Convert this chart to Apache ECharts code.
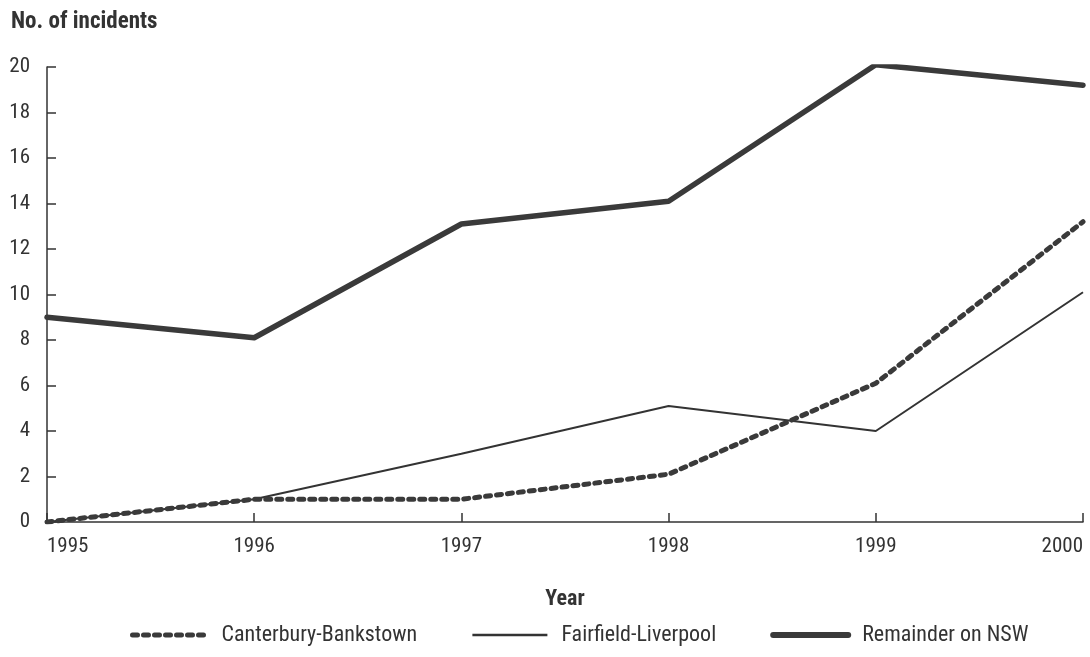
<!DOCTYPE html>
<html><head><meta charset="utf-8">
<script src="https://cdn.jsdelivr.net/npm/echarts@6/dist/echarts.min.js"></script>
<style>html,body{margin:0;padding:0;background:#fff}#c{width:1090px;height:657px}</style>
</head><body><div id="c"></div>
<script>
const years = ['1995','1996','1997','1998','1999','2000'];
const canterbury = [0, 1, 1, 2.1, 6.1, 13.2];
const fairfield = [0, 1, 3, 5.1, 4, 10.1];
const remainder = [9, 8.1, 13.1, 14.1, 20.1, 19.2];
const yTicks = [0, 2, 4, 6, 8, 10, 12, 14, 16, 18, 20];

const FONT = '"Liberation Sans Narrow", "Arial Narrow", "Roboto Condensed", "Liberation Sans", sans-serif';
const INK = '#333';
const DASH = [5, 6];
const chart = echarts.init(document.getElementById('c'));
chart.setOption({
  backgroundColor: '#fff',
  animation: false,
  textStyle: { fontFamily: FONT, color: INK },
  title: {
    text: 'No. of incidents', left: 6, top: 6,
    textStyle: { fontFamily: FONT, fontWeight: 'bold', fontSize: 23, color: INK }
  },
  grid: { left: 47, right: 7, top: 67, bottom: 135 },
  legend: {
    bottom: 6, left: 125, itemGap: 54, itemWidth: 75, itemHeight: 12,
    itemStyle: { opacity: 0, borderWidth: 0 },
    textStyle: { fontFamily: FONT, fontSize: 22, color: INK, padding: [0, 0, 0, 9] },
    data: [
      { name: 'Canterbury-Bankstown', itemStyle: { opacity: 0 }, lineStyle: { width: 5, type: DASH, cap: 'round', color: '#3a3a3a' } },
      { name: 'Fairfield-Liverpool', itemStyle: { opacity: 0 }, lineStyle: { width: 2.5, color: '#333' } },
      { name: 'Remainder on NSW', itemStyle: { opacity: 0 }, lineStyle: { width: 6, cap: 'round', color: '#3a3a3a' } }
    ]
  },
  xAxis: {
    type: 'category', data: years, boundaryGap: false,
    name: 'Year', nameLocation: 'middle', nameGap: 66,
    nameTextStyle: { fontFamily: FONT, fontWeight: 'bold', fontSize: 22, color: INK },
    axisLine: { lineStyle: { color: INK, width: 1.5 } },
    axisTick: { inside: true, length: 9, lineStyle: { color: INK, width: 1.5 } },
    axisLabel: { fontFamily: FONT, fontSize: 21, color: INK, margin: 14, alignMinLabel: 'left', alignMaxLabel: 'right' },
    splitLine: { show: false }
  },
  yAxis: {
    type: 'value', min: 0, max: 20, interval: 2,
    axisLine: { show: true, lineStyle: { color: INK, width: 1.5 } },
    axisTick: { show: true, inside: true, length: 9, lineStyle: { color: INK, width: 1.5 } },
    axisLabel: { fontFamily: FONT, fontSize: 21, color: INK, margin: 17,
      formatter: v => yTicks.includes(v) ? String(v) : '' },
    splitLine: { show: false }
  },
  series: [
    { name: 'Canterbury-Bankstown', type: 'line', data: canterbury, symbol: 'none',
      color: '#3a3a3a',
      lineStyle: { color: '#3a3a3a', width: 5, type: DASH, cap: 'round', join: 'round' }, z: 3 },
    { name: 'Fairfield-Liverpool', type: 'line', data: fairfield, symbol: 'none',
      color: '#333',
      lineStyle: { color: '#333', width: 2 }, z: 2 },
    { name: 'Remainder on NSW', type: 'line', data: remainder, symbol: 'none',
      color: '#3a3a3a',
      lineStyle: { color: '#3a3a3a', width: 5.5, cap: 'round', join: 'round' }, z: 4 }
  ]
});
</script></body></html>
